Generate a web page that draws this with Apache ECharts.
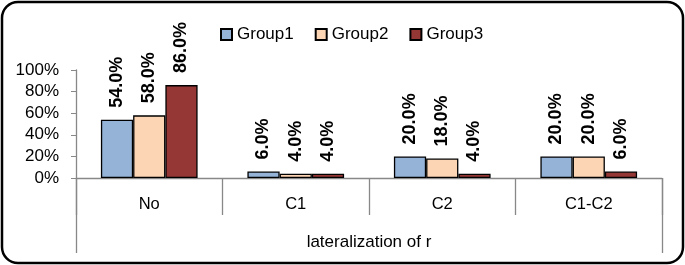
<!DOCTYPE html>
<html>
<head>
<meta charset="utf-8">
<script src="https://cdn.jsdelivr.net/npm/echarts@6/dist/echarts.min.js"></script>
<style>
  html, body { margin: 0; padding: 0; background: #fff; }
  #chart { width: 685px; height: 265px; }
</style>
</head>
<body>
<div id="chart"></div>
<script>
const categories = ['No', 'C1', 'C2', 'C1-C2']
const axisTitle = ['lateralization of r']
const group1 = [54, 6, 20, 20]
const group2 = [58, 4, 18, 20]
const group3 = [86, 4, 4, 6]
const seriesNames = ['Group1', 'Group2', 'Group3']
const colors = ['#95B3D7', '#FCD5B5', '#953735']

const font = 'Liberation Sans'
const chart = echarts.init(document.getElementById('chart'))

const makeSeries = (name, data, color) => ({
  name: name,
  type: 'bar',
  data: data,
  barGap: '0%',
  barCategoryGap: '34%',
  itemStyle: { color: color, borderColor: '#000', borderWidth: 1.3 },
  label: {
    show: true,
    position: 'top',
    rotate: 90,
    align: 'left',
    verticalAlign: 'middle',
    distance: 12,
    fontFamily: font,
    fontWeight: 'bold',
    fontSize: 18,
    color: '#000',
    formatter: p => p.value.toFixed(1) + '%'
  }
})

const option = {
  animation: false,
  backgroundColor: '#fff',
  textStyle: { fontFamily: font },
  graphic: [{
    type: 'rect',
    shape: { x: 2, y: 2, width: 681, height: 261, r: 16 },
    style: { fill: 'none', stroke: '#000', lineWidth: 2.5 }
  }],
  legend: {
    top: 21,
    left: 215,
    icon: 'rect',
    itemWidth: 11,
    itemHeight: 11,
    itemGap: 21,
    textStyle: { fontFamily: font, fontSize: 17, color: '#000' }
  },
  grid: { left: 76, right: 23, top: 70, bottom: 87 },
  xAxis: [
    {
      type: 'category',
      data: categories,
      axisLine: { lineStyle: { color: '#888', width: 1.3 } },
      axisTick: { show: true, length: 37, interval: 0, lineStyle: { color: '#888', width: 1.3 } },
      axisLabel: { margin: 18, fontSize: 16.5, color: '#000', fontFamily: font }
    },
    {
      type: 'category',
      position: 'bottom',
      data: axisTitle,
      axisLine: { show: false },
      axisTick: { show: true, length: 75, lineStyle: { color: '#888', width: 1.3 } },
      axisLabel: { margin: 56, fontSize: 17, color: '#000', fontFamily: font }
    }
  ],
  yAxis: {
    type: 'value',
    min: 0,
    max: 100,
    interval: 20,
    axisLine: { show: true, lineStyle: { color: '#888', width: 1.3 } },
    axisTick: { show: true, length: 5, lineStyle: { color: '#888' } },
    splitLine: { show: false },
    axisLabel: { margin: 17, fontSize: 17, color: '#000', fontFamily: font, formatter: '{value}%' }
  },
  series: [
    makeSeries(seriesNames[0], group1, colors[0]),
    makeSeries(seriesNames[1], group2, colors[1]),
    makeSeries(seriesNames[2], group3, colors[2])
  ]
}

chart.setOption(option)
</script>
</body>
</html>
